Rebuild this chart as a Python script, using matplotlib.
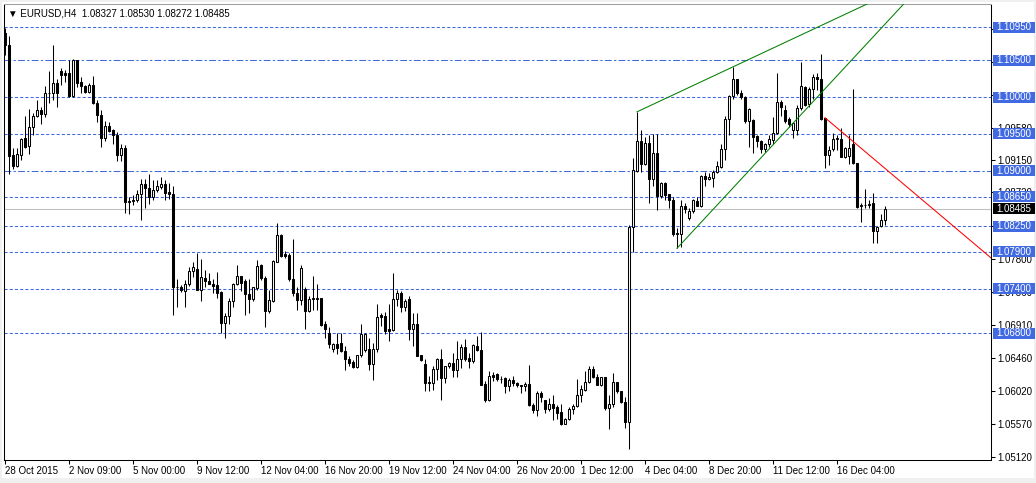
import matplotlib
matplotlib.use("Agg")
import matplotlib.pyplot as plt
import matplotlib.transforms as mtransforms
from matplotlib.patches import Rectangle

plt.rcParams['font.family'] = ['Liberation Sans', 'DejaVu Sans']

# EURUSD H4 candles
opens = [1.1087, 1.1071, 1.0922, 1.0907, 1.0922, 1.0944, 1.0934, 1.0959, 1.0975, 1.0983,
         1.0977, 1.1005, 1.1006, 1.1019, 1.1035, 1.1033, 1.1033, 1.1001, 1.1050, 1.1020,
         1.1015, 1.1007, 1.1017, 1.0992, 1.0976, 1.0944, 1.0961, 1.0955, 1.0948, 1.0921,
         1.0931, 1.0858, 1.0859, 1.0861, 1.0869, 1.0882, 1.0877, 1.0865, 1.0874, 1.0878,
         1.0882, 1.0871, 1.0869, 1.0742, 1.0742, 1.0737, 1.0746, 1.0764, 1.0767, 1.0739,
         1.0755, 1.0750, 1.0747, 1.0745, 1.0736, 1.0694, 1.0703, 1.0723, 1.0746, 1.0757,
         1.0750, 1.0733, 1.0726, 1.0741, 1.0772, 1.0755, 1.0710, 1.0724, 1.0777, 1.0813,
         1.0787, 1.0786, 1.0754, 1.0734, 1.0725, 1.0740, 1.0710, 1.0726, 1.0727, 1.0727,
         1.0692, 1.0680, 1.0659, 1.0665, 1.0667, 1.0656, 1.0645, 1.0641, 1.0634, 1.0650,
         1.0657, 1.0658, 1.0638, 1.0659, 1.0704, 1.0703, 1.0685, 1.0684, 1.0726, 1.0734,
         1.0716, 1.0726, 1.0686, 1.0693, 1.0650, 1.0638, 1.0614, 1.0613, 1.0631, 1.0645,
         1.0619, 1.0635, 1.0640, 1.0630, 1.0645, 1.0661, 1.0646, 1.0642, 1.0663, 1.0657,
         1.0611, 1.0590, 1.0623, 1.0624, 1.0618, 1.0619, 1.0608, 1.0617, 1.0613, 1.0609,
         1.0608, 1.0611, 1.0583, 1.0576, 1.0599, 1.0589, 1.0577, 1.0584, 1.0580, 1.0573,
         1.0557, 1.0563, 1.0577, 1.0581, 1.0596, 1.0603, 1.0614, 1.0631, 1.0621, 1.0610,
         1.0620, 1.0578, 1.0584, 1.0614, 1.0602, 1.0587, 1.0559, 1.0824, 1.0900, 1.0940,
         1.0909, 1.0938, 1.0889, 1.0924, 1.0866, 1.0884, 1.0868, 1.0861, 1.0816, 1.0815,
         1.0852, 1.0836, 1.0846, 1.0859, 1.0852, 1.0893, 1.0889, 1.0890, 1.0898, 1.0905,
         1.0930, 1.0970, 1.1001, 1.1024, 1.1005, 1.1000, 1.0967, 1.0969, 1.0947, 1.0941,
         1.0929, 1.0937, 1.0942, 1.0951, 1.0993, 1.0983, 1.0970, 1.0956, 1.0956, 1.0985,
         1.1014, 1.0990, 1.1011, 1.1027, 1.1024, 1.0971, 1.0922, 1.0929, 1.0943, 1.0943,
         1.0919, 1.0920, 1.0937, 1.0910, 1.0852, 1.0854, 1.0854, 1.0856, 1.0818, 1.0825,
         1.08327]
highs = [1.1094, 1.1083, 1.0931, 1.0931, 1.0945, 1.0975, 1.0984, 1.0978, 1.0996, 1.0987,
         1.1015, 1.1035, 1.1071, 1.1024, 1.1039, 1.1037, 1.1050, 1.1051, 1.1050, 1.1027,
         1.1017, 1.1019, 1.1029, 1.0996, 1.0982, 1.0968, 1.0966, 1.0957, 1.0953, 1.0937,
         1.0935, 1.0864, 1.0867, 1.0874, 1.0889, 1.0889, 1.0896, 1.0888, 1.0888, 1.0892,
         1.0887, 1.0884, 1.0879, 1.0754, 1.0745, 1.0752, 1.0770, 1.0776, 1.0789, 1.0781,
         1.0766, 1.0761, 1.0753, 1.0763, 1.0737, 1.0707, 1.0727, 1.0748, 1.0772, 1.0758,
         1.0753, 1.0753, 1.0743, 1.0779, 1.0774, 1.0757, 1.0738, 1.0779, 1.0829, 1.0815,
         1.0792, 1.0788, 1.0807, 1.0743, 1.0772, 1.0742, 1.0730, 1.0757, 1.0747, 1.0728,
         1.0697, 1.0688, 1.0667, 1.0680, 1.0680, 1.0662, 1.0649, 1.0644, 1.0651, 1.0692,
         1.0680, 1.0673, 1.0667, 1.0719, 1.0707, 1.0708, 1.0719, 1.0762, 1.0739, 1.0737,
         1.0726, 1.0730, 1.0707, 1.0707, 1.0651, 1.0645, 1.0622, 1.0636, 1.0646, 1.0658,
         1.0636, 1.0641, 1.0653, 1.0670, 1.0665, 1.0672, 1.0653, 1.0665, 1.0676, 1.0682,
         1.0615, 1.0628, 1.0627, 1.0626, 1.0622, 1.0621, 1.0619, 1.0622, 1.0614, 1.0610,
         1.0614, 1.0637, 1.0585, 1.0601, 1.0601, 1.0590, 1.0592, 1.0596, 1.0583, 1.0584,
         1.0565, 1.0580, 1.0584, 1.0618, 1.0610, 1.0628, 1.0636, 1.0636, 1.0624, 1.0621,
         1.0621, 1.0596, 1.0626, 1.0614, 1.0602, 1.0594, 1.0826, 1.0917, 1.0980, 1.0955,
         1.0946, 1.0949, 1.0950, 1.0950, 1.0885, 1.0885, 1.0869, 1.0865, 1.0822, 1.0861,
         1.0857, 1.0849, 1.0862, 1.0865, 1.0894, 1.0899, 1.0897, 1.0901, 1.0913, 1.0936,
         1.0974, 1.1003, 1.1041, 1.1024, 1.1010, 1.1002, 1.0985, 1.0970, 1.0949, 1.0942,
         1.0938, 1.0949, 1.0973, 1.1032, 1.0996, 1.0989, 1.0973, 1.0965, 1.0989, 1.1048,
         1.1015, 1.1014, 1.1031, 1.1032, 1.1059, 1.0972, 1.0934, 1.0951, 1.0949, 1.0958,
         1.0933, 1.0949, 1.1011, 1.0911, 1.0856, 1.0876, 1.0861, 1.0870, 1.0825, 1.0842,
         1.08530]
lows = [1.1057, 1.0896, 1.0902, 1.0905, 1.0915, 1.0931, 1.0923, 1.0948, 1.0973, 1.0964,
        1.0973, 1.0992, 1.0996, 1.0986, 1.1017, 1.1021, 1.1000, 1.1000, 1.1014, 1.1005,
        1.1006, 1.1005, 1.0991, 1.0966, 1.0933, 1.0941, 1.0953, 1.0937, 1.0914, 1.0914,
        1.0843, 1.0842, 1.0854, 1.0858, 1.0833, 1.0849, 1.0855, 1.0860, 1.0872, 1.0876,
        1.0860, 1.0862, 1.0704, 1.0716, 1.0736, 1.0716, 1.0744, 1.0756, 1.0739, 1.0724,
        1.0742, 1.0746, 1.0735, 1.0728, 1.0680, 1.0673, 1.0693, 1.0716, 1.0745, 1.0737,
        1.0704, 1.0707, 1.0724, 1.0739, 1.0752, 1.0688, 1.0707, 1.0722, 1.0776, 1.0783,
        1.0782, 1.0750, 1.0731, 1.0712, 1.0718, 1.0685, 1.0709, 1.0712, 1.0711, 1.0690,
        1.0673, 1.0660, 1.0655, 1.0652, 1.0654, 1.0630, 1.0635, 1.0633, 1.0633, 1.0648,
        1.0655, 1.0630, 1.0617, 1.0654, 1.0690, 1.0679, 1.0669, 1.0683, 1.0717, 1.0708,
        1.0710, 1.0671, 1.0662, 1.0649, 1.0642, 1.0601, 1.0601, 1.0603, 1.0617, 1.0590,
        1.0613, 1.0633, 1.0621, 1.0621, 1.0633, 1.0642, 1.0633, 1.0640, 1.0656, 1.0610,
        1.0586, 1.0588, 1.0615, 1.0615, 1.0613, 1.0599, 1.0602, 1.0608, 1.0607, 1.0599,
        1.0601, 1.0581, 1.0572, 1.0567, 1.0587, 1.0572, 1.0574, 1.0562, 1.0563, 1.0556,
        1.0557, 1.0562, 1.0571, 1.0580, 1.0587, 1.0601, 1.0613, 1.0619, 1.0609, 1.0608,
        1.0576, 1.0550, 1.0580, 1.0599, 1.0585, 1.0551, 1.0523, 1.0790, 1.0899, 1.0899,
        1.0908, 1.0856, 1.0879, 1.0847, 1.0863, 1.0860, 1.0849, 1.0811, 1.0795, 1.0797,
        1.0843, 1.0834, 1.0843, 1.0852, 1.0851, 1.0879, 1.0888, 1.0878, 1.0897, 1.0904,
        1.0915, 1.0949, 1.0998, 1.1003, 1.0997, 1.0965, 1.0932, 1.0924, 1.0933, 1.0924,
        1.0926, 1.0933, 1.0937, 1.0950, 1.0975, 1.0965, 1.0959, 1.0944, 1.0949, 1.0983,
        1.0988, 1.0987, 1.0998, 1.1010, 1.0969, 1.0904, 1.0908, 1.0927, 1.0928, 1.0919,
        1.0917, 1.0909, 1.0909, 1.0849, 1.0831, 1.0849, 1.0849, 1.0802, 1.0802, 1.0824,
        1.08272]
closes = [1.1071, 1.0920, 1.0907, 1.0923, 1.0943, 1.0933, 1.0959, 1.0975, 1.0982, 1.0977,
          1.1005, 1.1006, 1.1019, 1.1005, 1.1030, 1.1030, 1.1001, 1.1050, 1.1019, 1.1015,
          1.1007, 1.1017, 1.0992, 1.0976, 1.0944, 1.0961, 1.0954, 1.0948, 1.0921, 1.0931,
          1.0858, 1.0859, 1.0860, 1.0869, 1.0882, 1.0877, 1.0865, 1.0874, 1.0879, 1.0882,
          1.0870, 1.0869, 1.0742, 1.0743, 1.0738, 1.0746, 1.0764, 1.0770, 1.0739, 1.0756,
          1.0750, 1.0747, 1.0744, 1.0735, 1.0694, 1.0703, 1.0723, 1.0746, 1.0757, 1.0748,
          1.0733, 1.0726, 1.0742, 1.0771, 1.0755, 1.0710, 1.0725, 1.0778, 1.0813, 1.0785,
          1.0784, 1.0754, 1.0734, 1.0725, 1.0768, 1.0710, 1.0726, 1.0727, 1.0726, 1.0691,
          1.0685, 1.0665, 1.0665, 1.0660, 1.0656, 1.0645, 1.0640, 1.0634, 1.0650, 1.0679,
          1.0679, 1.0638, 1.0658, 1.0702, 1.0702, 1.0683, 1.0683, 1.0726, 1.0734, 1.0716,
          1.0723, 1.0686, 1.0693, 1.0649, 1.0643, 1.0613, 1.0613, 1.0631, 1.0645, 1.0619,
          1.0635, 1.0640, 1.0630, 1.0645, 1.0661, 1.0645, 1.0642, 1.0664, 1.0657, 1.0610,
          1.0590, 1.0622, 1.0621, 1.0618, 1.0618, 1.0608, 1.0617, 1.0612, 1.0609, 1.0608,
          1.0611, 1.0583, 1.0576, 1.0599, 1.0594, 1.0577, 1.0584, 1.0578, 1.0572, 1.0557,
          1.0563, 1.0577, 1.0581, 1.0596, 1.0604, 1.0614, 1.0631, 1.0621, 1.0610, 1.0620,
          1.0578, 1.0584, 1.0614, 1.0601, 1.0586, 1.0559, 1.0824, 1.0901, 1.0940, 1.0909,
          1.0938, 1.0889, 1.0924, 1.0866, 1.0884, 1.0867, 1.0861, 1.0815, 1.0815, 1.0852,
          1.0848, 1.0846, 1.0860, 1.0852, 1.0893, 1.0889, 1.0891, 1.0898, 1.0906, 1.0930,
          1.0970, 1.1001, 1.1024, 1.1005, 1.1000, 1.0967, 1.0984, 1.0946, 1.0940, 1.0929,
          1.0937, 1.0943, 1.0951, 1.0993, 1.0987, 1.0967, 1.0963, 1.0965, 1.0985, 1.1015,
          1.0989, 1.1011, 1.1027, 1.1024, 1.0970, 1.0922, 1.0928, 1.0943, 1.0944, 1.0919,
          1.0931, 1.0931, 1.0910, 1.0851, 1.0854, 1.0854, 1.0855, 1.0818, 1.0824, 1.0833,
          1.08485]

date_labels = ["28 Oct 2015", "2 Nov 09:00", "5 Nov 00:00", "9 Nov 12:00", "12 Nov 04:00",
               "16 Nov 20:00", "19 Nov 12:00", "24 Nov 04:00", "26 Nov 20:00", "1 Dec 12:00",
               "4 Dec 04:00", "8 Dec 20:00", "11 Dec 12:00", "16 Dec 04:00"]
date_step = 16

# price scale ticks; the ones fully covered by level boxes carry no label
price_ticks = [1.05120, 1.05570, 1.06020, 1.06460, 1.06910, 1.07360, 1.07800,
               1.08250, 1.08720, 1.09150, 1.09580, 1.10030, 1.10470, 1.10920]
hidden_ticks = [1.08250, 1.10030, 1.10470, 1.10920]

levels = [1.10950, 1.10500, 1.10000, 1.09500, 1.09000, 1.08650, 1.08250, 1.07900, 1.07400, 1.06800]
level_dashdot = [False, True, False, False, True, False, False, False, False, False]
last_price = 1.08485

# trend lines: two anchor points (bar index, price), drawn as rays to the right
upper_green = [(158, 1.0980), (182, 1.1041)]
lower_green = [(168, 1.0795), (216.25, 1.1077)]
red_line = [(205, 1.0972), (246.5, 1.0782)]

W, H = 1036, 483
FS = 7
fig = plt.figure(figsize=(W / 100, H / 100), dpi=100, facecolor='#f0f0f0')
fig.patches.append(Rectangle((2 / W, 5 / H), 1032 / W, 476 / H, transform=fig.transFigure,
                             facecolor='white', edgecolor='none', zorder=-5))
ax = fig.add_axes([4 / W, 23 / H, 987 / W, 456 / H])
ax.set_zorder(2)
ax.set_facecolor('white')
ax.set_xlim(-0.25, 246.5)
ax.set_ylim(1.05080, 1.11262)

blue = '#4169E1'
for p, dd in zip(levels, level_dashdot):
    ln = ax.axhline(p, color=blue, lw=0.75, zorder=1)
    ln.set_dashes((6.5, 2.2, 2.2, 2.2) if dd else (3, 2))
ax.axhline(last_price, color='#c0c0c0', lw=0.75, zorder=1)

bw = 0.5
for i, (o, h, l, c) in enumerate(zip(opens, highs, lows, closes)):
    ax.vlines(i, l, h, color='black', lw=0.75, zorder=2)
    fc = 'white' if c >= o else 'black'
    ax.add_patch(Rectangle((i - bw / 2, min(o, c)), bw, max(abs(c - o), 1e-6),
                           facecolor=fc, edgecolor='black', lw=0.75, zorder=3))

def ray(pts, color):
    (x0, y0), (x1, y1) = pts
    slope = (y1 - y0) / (x1 - x0)
    xe = 260
    ax.plot([x0, xe], [y0, y0 + slope * (xe - x0)], color=color, lw=0.75, zorder=4)

ray(upper_green, '#008000')
ray(lower_green, '#008000')
ray(red_line, '#ff0000')

# axes styling
for s in ['left', 'right', 'bottom', 'top']:
    ax.spines[s].set_linewidth(0.75)
    ax.spines[s].set_color('black')
ax.spines['top'].set_color('#a0a0a0')
ax.yaxis.tick_right()
ax.set_yticks(price_ticks)
ax.set_yticklabels(["" if p in hidden_ticks else f"{p:.5f}" for p in price_ticks])
ax.tick_params(axis='y', direction='out', length=3, width=0.75, pad=1.5, labelsize=FS)
ax.set_xticks([i * date_step for i in range(len(date_labels))])
ax.set_xticklabels(date_labels, ha='left')
ax.tick_params(axis='x', direction='out', length=3, width=0.75, pad=1.5, labelsize=FS)

# price label boxes on the scale (42 px wide, 11 px tall)
trans = mtransforms.blended_transform_factory(ax.transAxes, ax.transData)
px_y = (1.11262 - 1.05080) / 456
box_w = 42 / 987
def price_box(p, color, z):
    ax.add_patch(Rectangle((2 / 987 + 1, p - 5.5 * px_y), box_w, 11 * px_y, transform=trans,
                           facecolor=color, edgecolor='none', clip_on=False, zorder=z))
    ax.text(1 + 5 / 987, p, f"{p:.5f}", transform=trans, ha='left', va='center',
            fontsize=FS, color='white', clip_on=False, zorder=z + 0.5)

for p in levels:
    price_box(p, blue, 10)
price_box(last_price, 'black', 11)

header = "▼ EURUSD,H4  " + " ".join(f"{v:.5f}" for v in (opens[-1], highs[-1], lows[-1], closes[-1]))
ax.text(8 / W, 1 - 13 / H, header, transform=fig.transFigure, fontsize=FS, va='center',
        ha='left', color='black', zorder=12)

fig.savefig("out.png", dpi=100, facecolor=fig.get_facecolor())
